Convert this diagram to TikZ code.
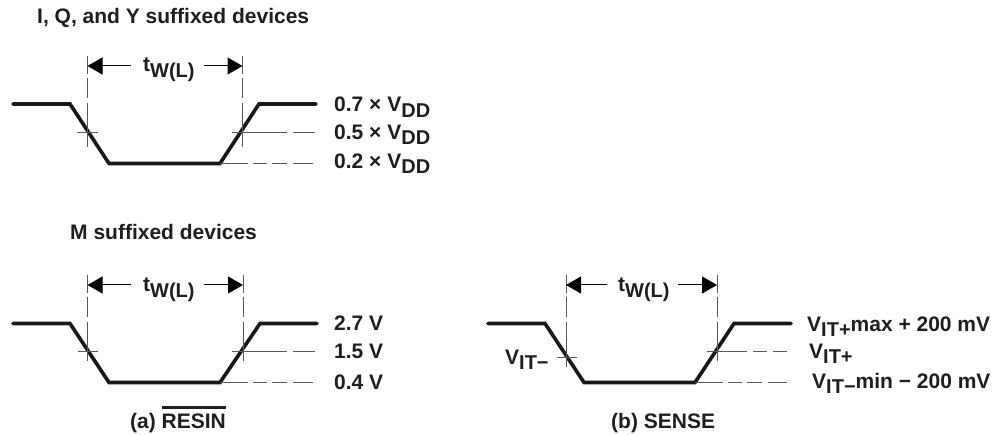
\documentclass[tikz,border=0pt]{standalone}
\usepackage{fontspec}
\setmainfont{Liberation Sans}
\usetikzlibrary{arrows.meta}
\newcommand{\lowtxt}[1]{\raisebox{-5.5pt}{\fontsize{20}{20}\selectfont #1}}
\tikzset{
  wave/.style={line width=3.6pt,line cap=round,line join=miter,black!90},
  guidea/.style={line width=1pt,black!65,dash pattern=on 34pt off 6pt on 23pt off 100pt},
  guideb/.style={line width=1pt,black!65,dash pattern=on 28pt off 5pt on 14pt off 5pt on 15pt off 6pt on 20pt off 100pt},
  guidec/.style={line width=1pt,black!65,dash pattern=on 20pt off 6pt on 14pt off 6pt on 14pt off 100pt},
  vguide/.style={line width=1pt,black!65,dash pattern=on 18pt off 4pt on 20pt off 5pt on 70pt off 100pt},
  tick/.style={line width=1pt,black!65},
  span/.style={line width=1pt,black,-{Triangle[length=15pt,width=17pt]}},
  lab/.style={anchor=base west,inner sep=0pt,font=\bfseries\fontsize{21}{21}\selectfont,text=black!88},
}
\begin{document}
\begin{tikzpicture}[x=1pt,y=-1pt]
\useasboundingbox (0,0) rectangle (995,435);
\fill[white] (0,0) rectangle (995,435);
\node[lab] (t1) at (37,24) {I, Q, and Y suffixed devices};
\node[lab] (t2) at (70,240) {M suffixed devices};
% top
\draw[wave] (13,104) -- (70,104) -- (109,163.5) -- (220,163.5) -- (259,104) -- (316,104);
\coordinate (a1) at (87.5,56); \coordinate (a2) at (87.5,147);
\coordinate (b1) at (242.5,56); \coordinate (b2) at (242.5,147);
\draw[vguide] (a1) -- (a2);
\draw[vguide] (b1) -- (b2);
\draw[tick] (77,132.5) -- (98,132.5);
\draw[tick] (232,132.5) -- (253,132.5);
\draw[guidea] (253,133) -- (315,133);
\draw[guideb] (220,163.5) -- (315,163.5);
\coordinate (c1) at (131,66); \coordinate (c2) at (204,66);
\draw[span] (c1) -- (a1|-c1);
\draw[span] (c2) -- (b1|-c2);
\node[lab] (w1) at (143,72) {t\lowtxt{W(L)}};
\node[lab] (l1) at (334,112) {0.7 × V\lowtxt{DD}};
\node[lab] (l2) at (334,139.5) {0.5 × V\lowtxt{DD}};
\node[lab] (l3) at (334,168.5) {0.2 × V\lowtxt{DD}};
% bottom left
\draw[wave] (13,323.5) -- (70,323.5) -- (109,382.5) -- (220,382.5) -- (260,323.5) -- (317,323.5);
\coordinate (d1) at (87.5,275); \coordinate (d2) at (87.5,361);
\coordinate (e1) at (243,275); \coordinate (e2) at (243,361);
\draw[vguide] (d1) -- (d2);
\draw[vguide] (e1) -- (e2);
\draw[tick] (78,351) -- (98,351);
\draw[tick] (232,351) -- (253,351);
\draw[guidea] (253,351.5) -- (315,351.5);
\draw[guideb] (220,382.5) -- (315,382.5);
\coordinate (f1) at (131,285); \coordinate (f2) at (204,285);
\draw[span] (f1) -- (d1|-f1);
\draw[span] (f2) -- (e1|-f2);
\node[lab] (w2) at (143,292) {t\lowtxt{W(L)}};
\node[lab] (m1) at (334,330.5) {2.7 V};
\node[lab] (m2) at (334,358.5) {1.5 V};
\node[lab] (m3) at (334,389.5) {0.4 V};
\node[lab] (cap1) at (130,428) {(a) \smash{\rlap{\rule[19.5pt]{64pt}{2.2pt}}}RESIN};
% bottom right
\draw[wave] (488,323.5) -- (545,323.5) -- (584,382.5) -- (695,382.5) -- (734,323.5) -- (791,323.5);
\coordinate (g1) at (566,275); \coordinate (g2) at (566,367);
\coordinate (h1) at (717,275); \coordinate (h2) at (717,361);
\draw[vguide] (g1) -- (g2);
\draw[vguide] (h1) -- (h2);
\draw[tick] (557,357) -- (577,357);
\draw[tick] (707,351) -- (727,351);
\draw[guidec] (727,351) -- (787,351);
\draw[guideb] (695,382.5) -- (787,382.5);
\coordinate (i1) at (607,285); \coordinate (i2) at (678,285);
\draw[span] (i1) -- (g1|-i1);
\draw[span] (i2) -- (h1|-i2);
\node[lab] (w3) at (618,292) {t\lowtxt{W(L)}};
\node[lab] (n0) at (505,364) {V\lowtxt{IT−}};
\node[lab] (n1) at (807,331) {V\lowtxt{IT+}max + 200 mV};
\node[lab] (n2) at (809,358) {V\lowtxt{IT+}};
\node[lab] (n3) at (812,388) {V\lowtxt{IT−}min − 200 mV};
\node[lab] (cap2) at (611,428) {(b) SENSE};
\end{tikzpicture}
\end{document}
